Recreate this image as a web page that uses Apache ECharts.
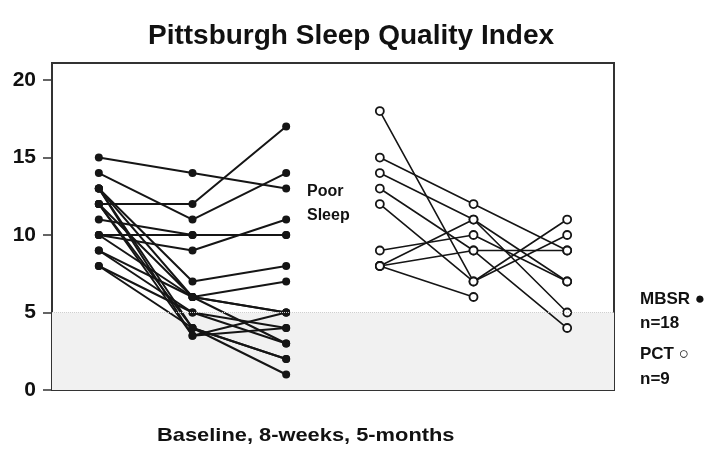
<!DOCTYPE html>
<html>
<head>
<meta charset="utf-8">
<script src="https://cdn.jsdelivr.net/npm/echarts@6/dist/echarts.min.js"></script>
<style>html,body{margin:0;padding:0;background:#fff}#c{width:722px;height:462px}</style>
</head>
<body>
<div id="c"></div>
<script>
// ---- data ----
const timepoints = ['Baseline', '8-weeks', '5-months'];
const yTicks = [0, 5, 10, 15, 20];
// MBSR subjects (n=18)
const mbsrBaseline = [15, 14, 12, 11, 10, 10, 13, 12, 13, 10, 9, 8, 9, 13, 12, 12, 13, 8];
const mbsrWeek8    = [14, 11, 12, 10, 10, 9, 7, 6, 6, 6, 6, 5, 5, 4, 3.5, 4, 3.5, 4];
const mbsrMonth5   = [13, 14, 17, 10, 10, 11, 8, 7, 5, 3, 5, 4, 3, 2, 5, 1, 4, 2];
// PCT subjects (n=9)
const pctBaseline = [18, 15, 14, 13, 12, 9, 8, 8, 8];
const pctWeek8    = [7, 12, 11, 9, 7, 10, 11, 9, 6];
const pctMonth5   = [11, 9, 7, 9, 10, 7, 5, 4, null];

const FONT = "'Liberation Sans', Arial, sans-serif";
const series = [];

// shaded "good sleep" band 0-5 (drawn first, below the lines)
series.push({
  type: 'line', data: [], silent: true, animation: false, z: 1,
  markArea: { silent: true, itemStyle: { color: '#f1f1f1' }, data: [[{ yAxis: 0 }, { yAxis: 5 }]] },
  markLine: { silent: true, symbol: 'none', label: { show: false },
    lineStyle: { color: '#cfcfcf', type: 'dotted', width: 1 }, data: [{ yAxis: 5 }] }
});

mbsrBaseline.forEach((b, i) => {
  const pts = [[0, b], [1, mbsrWeek8[i]], [2, mbsrMonth5[i]]].filter(p => p[1] != null);
  series.push({
    type: 'line', data: pts, symbol: 'circle', symbolSize: 8, z: 3,
    lineStyle: { color: '#151515', width: 2 },
    itemStyle: { color: '#151515' },
    emphasis: { disabled: true }, silent: true, animation: false
  });
});
pctBaseline.forEach((b, i) => {
  const pts = [[3, b], [4, pctWeek8[i]], [5, pctMonth5[i]]].filter(p => p[1] != null);
  series.push({
    type: 'line', data: pts, symbol: 'circle', symbolSize: 8, z: 3,
    lineStyle: { color: '#151515', width: 1.6 },
    itemStyle: { color: '#ffffff', borderColor: '#151515', borderWidth: 1.8 },
    emphasis: { disabled: true }, silent: true, animation: false
  });
});

const chart = echarts.init(document.getElementById('c'), null, { renderer: 'canvas' });
chart.setOption({
  animation: false,
  backgroundColor: '#fff',
  title: {
    text: 'Pittsburgh Sleep Quality Index', left: 346, top: 17, textAlign: 'center',
    textStyle: { fontFamily: FONT, fontWeight: 'bold', fontSize: 28, color: '#111' }
  },
  grid: { left: 52, right: 108, top: 63, bottom: 72, show: true, borderColor: '#333', borderWidth: 2, containLabel: false },
  xAxis: { type: 'value', min: -0.5, max: 5.5, show: false },
  yAxis: {
    type: 'value', min: 0, max: 21.1,
    axisLine: { show: true, onZero: false, lineStyle: { color: '#333', width: 2 } },
    axisTick: { show: true, length: 9, customValues: yTicks, lineStyle: { color: '#333', width: 1.5 } },
    axisLabel: { customValues: yTicks, margin: 16, fontFamily: FONT, fontWeight: 'bold', fontSize: 21, color: '#111' },
    splitLine: { show: false }
  },
  graphic: [
    { type: 'text', left: 157, top: 426, scaleX: 1.15, style: { text: timepoints.join(', '), font: "bold 19px 'Liberation Sans', Arial", fill: '#111' } },
    { type: 'text', left: 307, top: 180, style: { text: 'Poor\nSleep', lineHeight: 24, font: "bold 16px 'Liberation Sans', Arial", fill: '#111' } },
    { type: 'text', left: 640, top: 291, style: { text: 'MBSR ●', font: "bold 17px 'Liberation Sans', Arial", fill: '#111' } },
    { type: 'text', left: 640, top: 315, style: { text: 'n=18', font: "bold 17px 'Liberation Sans', Arial", fill: '#111' } },
    { type: 'text', left: 640, top: 346, style: { text: 'PCT ○', font: "bold 17px 'Liberation Sans', Arial", fill: '#111' } },
    { type: 'text', left: 640, top: 371, style: { text: 'n=9', font: "bold 17px 'Liberation Sans', Arial", fill: '#111' } }
  ],
  series: series
});
</script>
</body>
</html>
